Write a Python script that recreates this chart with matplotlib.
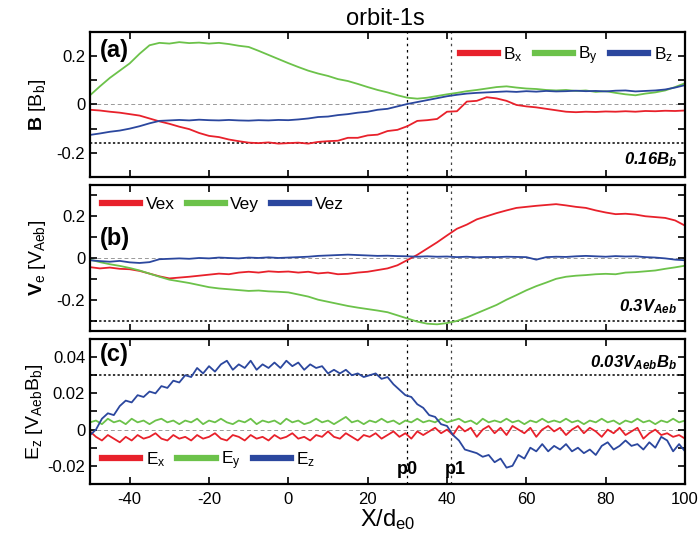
import numpy as np
import matplotlib
matplotlib.use("Agg")
import matplotlib.pyplot as plt
from matplotlib.ticker import MultipleLocator, FuncFormatter

plt.rcParams['font.family'] = ['Liberation Sans', 'DejaVu Sans']
plt.rcParams['mathtext.fontset'] = 'custom'
plt.rcParams['mathtext.rm'] = 'Liberation Sans'
plt.rcParams['mathtext.bf'] = 'Liberation Sans:bold'
plt.rcParams['mathtext.it'] = 'Liberation Sans:italic'
plt.rcParams['axes.unicode_minus'] = False

# -----------------------------
# DATA
# -----------------------------

# B and Ve sampled every 2.5 d_e0
x_bv = np.linspace(-50, 100, 61)

Bx = [-0.022, -0.025, -0.030, -0.034, -0.040, -0.046, -0.058, -0.070, -0.080, -0.092,
      -0.102, -0.118, -0.130, -0.135, -0.145, -0.152, -0.158, -0.160, -0.157, -0.162,
      -0.160, -0.158, -0.162, -0.155, -0.152, -0.150, -0.138, -0.138, -0.128, -0.125,
      -0.110, -0.105, -0.090, -0.068, -0.065, -0.060, -0.030, -0.028, 0.012, 0.015,
      0.030, 0.025, 0.015, -0.002, -0.008, -0.012, -0.018, -0.024, -0.030, -0.032,
      -0.030, -0.031, -0.029, -0.030, -0.028, -0.030, -0.027, -0.028, -0.026, -0.027,
      -0.025]
By = [0.038, 0.075, 0.110, 0.140, 0.170, 0.210, 0.245, 0.255, 0.252, 0.258,
      0.254, 0.256, 0.252, 0.255, 0.250, 0.243, 0.238, 0.222, 0.205, 0.188,
      0.171, 0.155, 0.140, 0.128, 0.118, 0.105, 0.097, 0.085, 0.072, 0.060,
      0.050, 0.038, 0.028, 0.024, 0.028, 0.035, 0.042, 0.048, 0.055, 0.060,
      0.066, 0.072, 0.075, 0.070, 0.066, 0.064, 0.060, 0.058, 0.060, 0.056,
      0.058, 0.052, 0.055, 0.048, 0.042, 0.038, 0.045, 0.050, 0.058, 0.072,
      0.088]
Bz = [-0.126, -0.120, -0.113, -0.108, -0.100, -0.090, -0.078, -0.068, -0.066, -0.064,
      -0.066, -0.063, -0.065, -0.066, -0.064, -0.066, -0.067, -0.065, -0.066, -0.064,
      -0.065, -0.062, -0.058, -0.052, -0.050, -0.044, -0.040, -0.034, -0.030, -0.022,
      -0.018, -0.008, 0.002, 0.010, 0.018, 0.026, 0.034, 0.040, 0.045, 0.048,
      0.050, 0.052, 0.054, 0.052, 0.055, 0.053, 0.056, 0.054, 0.055, 0.057,
      0.055, 0.056, 0.054, 0.057, 0.058, 0.054, 0.056, 0.058, 0.062, 0.070,
      0.080]

Vex = [-0.044, -0.050, -0.046, -0.052, -0.054, -0.062, -0.075, -0.088, -0.098, -0.094,
       -0.090, -0.085, -0.080, -0.075, -0.078, -0.070, -0.066, -0.070, -0.064, -0.067,
       -0.065, -0.070, -0.066, -0.074, -0.070, -0.078, -0.076, -0.070, -0.066, -0.058,
       -0.050, -0.035, -0.010, 0.015, 0.045, 0.075, 0.108, 0.140, 0.160, 0.185,
       0.200, 0.215, 0.228, 0.240, 0.245, 0.250, 0.254, 0.258, 0.252, 0.245,
       0.240, 0.228, 0.218, 0.210, 0.212, 0.208, 0.200, 0.196, 0.192, 0.180,
       0.155]
Vey = [-0.008, -0.020, -0.030, -0.038, -0.048, -0.060, -0.075, -0.090, -0.104, -0.112,
       -0.120, -0.130, -0.140, -0.146, -0.150, -0.154, -0.158, -0.156, -0.160, -0.162,
       -0.165, -0.175, -0.185, -0.200, -0.210, -0.220, -0.230, -0.238, -0.245, -0.252,
       -0.260, -0.275, -0.290, -0.305, -0.315, -0.318, -0.312, -0.302, -0.285, -0.265,
       -0.245, -0.225, -0.200, -0.178, -0.155, -0.135, -0.118, -0.100, -0.090, -0.085,
       -0.082, -0.078, -0.076, -0.078, -0.070, -0.068, -0.064, -0.060, -0.052, -0.045,
       -0.037]
Vez = [-0.011, -0.015, -0.018, -0.014, -0.021, -0.024, -0.020, -0.006, -0.004, -0.002,
       -0.004, 0.000, -0.002, 0.002, 0.000, -0.002, 0.002, 0.000, 0.003, 0.000,
       0.002, 0.004, 0.006, 0.010, 0.012, 0.014, 0.016, 0.014, 0.012, 0.010,
       0.011, 0.009, 0.008, 0.006, 0.008, 0.006, 0.007, 0.004, 0.006, 0.003,
       0.005, 0.004, 0.006, 0.005, 0.004, -0.008, 0.004, 0.006, 0.005, 0.008,
       0.010, 0.008, 0.006, 0.009, 0.007, 0.008, 0.004, 0.002, -0.002, -0.008,
       -0.011]

# E sampled every 1.5 d_e0
x_e = np.linspace(-50, 100, 101)

Ex = [-0.001, -0.004, -0.006, -0.003, -0.005, -0.007, -0.004, -0.006, -0.003, -0.005,
      -0.004, -0.002, -0.005, -0.006, -0.003, -0.005, -0.004, -0.006, -0.003, -0.005,
      -0.004, -0.002, -0.005, -0.006, -0.003, -0.004, -0.006, -0.003, -0.005, -0.004,
      -0.006, -0.003, -0.005, -0.004, -0.002, -0.005, -0.004, -0.006, -0.003, -0.004,
      -0.001, -0.004, -0.005, -0.002, -0.004, -0.006, -0.003, -0.004, -0.002, -0.005,
      -0.003, -0.001, -0.004, -0.002, -0.005, -0.001, -0.003,
      -0.001, 0.001, -0.002, 0.000, -0.003, 0.002, -0.001, 0.001, -0.004, 0.000,
      0.002, -0.002, 0.001, -0.003, 0.002, 0.000, -0.002, 0.001, -0.004, 0.000,
      0.002, -0.001, 0.001, -0.003, 0.000, 0.002, -0.002, 0.001, -0.001, -0.004,
      0.000, -0.002, 0.001, -0.003, -0.001, 0.001, -0.005, -0.002, 0.000, -0.003,
      -0.002, -0.004, -0.003, -0.005]
Ey = [0.004, 0.005, 0.003, 0.006, 0.004, 0.005, 0.003, 0.006, 0.004, 0.005,
      0.003, 0.005, 0.006, 0.004, 0.005, 0.003, 0.005, 0.004, 0.006, 0.003,
      0.005, 0.004, 0.006, 0.004, 0.003, 0.005, 0.004, 0.006, 0.003, 0.005,
      0.004, 0.005, 0.003, 0.006, 0.004, 0.005, 0.003, 0.004, 0.006, 0.004,
      0.005, 0.003, 0.005, 0.007, 0.004, 0.005, 0.003, 0.005, 0.004, 0.006,
      0.004, 0.005, 0.003, 0.005, 0.004, 0.006, 0.004, 0.005, 0.004, 0.006,
      0.004, 0.005, 0.006, 0.004, 0.005, 0.003, 0.006, 0.004, 0.005, 0.004,
      0.006, 0.004, 0.005, 0.003, 0.005, 0.004, 0.006, 0.004, 0.005, 0.004,
      0.006, 0.004, 0.005, 0.003, 0.005, 0.004, 0.006, 0.004, 0.005, 0.003,
      0.005, 0.004, 0.006, 0.004, 0.005, 0.003, 0.005, 0.004, 0.006, 0.004,
      0.005]
Ez = [-0.003, 0.000, 0.006, 0.009, 0.008, 0.013, 0.016, 0.015, 0.019, 0.018,
      0.021, 0.020, 0.024, 0.023, 0.027, 0.026, 0.030, 0.029, 0.034, 0.031,
      0.035, 0.032, 0.036, 0.038, 0.033, 0.036, 0.034, 0.038, 0.033, 0.036,
      0.034, 0.037, 0.034, 0.038, 0.035, 0.037, 0.033, 0.036, 0.034, 0.035,
      0.031, 0.033, 0.031, 0.033, 0.030, 0.031, 0.029, 0.030, 0.031, 0.028,
      0.029, 0.025, 0.022, 0.019, 0.018, 0.014, 0.012, 0.008, 0.007, 0.003,
      0.002, -0.003, -0.006, -0.011, -0.012, -0.013, -0.015, -0.014, -0.018, -0.016,
      -0.021, -0.020, -0.014, -0.016, -0.010, -0.012, -0.008, -0.012, -0.009, -0.011,
      -0.008, -0.012, -0.010, -0.013, -0.011, -0.014, -0.009, -0.007, -0.011, -0.009,
      -0.006, -0.009, -0.008, -0.011, -0.007, -0.010, -0.004, -0.006, -0.012, -0.008,
      -0.012]

p0, p1 = 30, 41
ref_levels = [-0.16, -0.3, 0.03]
ref_texts = [r'0.16B$_\mathregular{b}$', r'0.3V$_\mathregular{Aeb}$',
             r'0.03V$_\mathregular{Aeb}$B$_\mathregular{b}$']

red = '#e8212b'
green = '#6cc24a'
blue = '#2b479e'

# -----------------------------
# FIGURE
# -----------------------------

fig = plt.figure(figsize=(7, 5.33), dpi=100)
left, width = 0.1286, 0.85
ax1 = fig.add_axes([left, 0.668, width, 0.272])
ax2 = fig.add_axes([left, 0.379, width, 0.274])
ax3 = fig.add_axes([left, 0.092, width, 0.272])
axes = [ax1, ax2, ax3]

lw = 1.3
ax1.plot(x_bv, Bx, color=red, lw=lw, label=r'B$_\mathregular{x}$')
ax1.plot(x_bv, By, color=green, lw=lw, label=r'B$_\mathregular{y}$')
ax1.plot(x_bv, Bz, color=blue, lw=lw, label=r'B$_\mathregular{z}$')

ax2.plot(x_bv, Vex, color=red, lw=lw, label='Vex')
ax2.plot(x_bv, Vey, color=green, lw=lw, label='Vey')
ax2.plot(x_bv, Vez, color=blue, lw=lw, label='Vez')

ax3.plot(x_e, Ex, color=red, lw=lw, label=r'E$_\mathregular{x}$')
ax3.plot(x_e, Ey, color=green, lw=lw, label=r'E$_\mathregular{y}$')
ax3.plot(x_e, Ez, color=blue, lw=lw, label=r'E$_\mathregular{z}$')

ax1.set_ylim(-0.3, 0.3)
ax2.set_ylim(-0.35, 0.35)
ax3.set_ylim(-0.03, 0.05)

fmt = FuncFormatter(lambda v, p: '0' if abs(v) < 1e-9 else f'{v:g}')
ax1.yaxis.set_major_locator(MultipleLocator(0.2))
ax1.yaxis.set_minor_locator(MultipleLocator(0.1))
ax2.yaxis.set_major_locator(MultipleLocator(0.2))
ax2.yaxis.set_minor_locator(MultipleLocator(0.1))
ax3.yaxis.set_major_locator(MultipleLocator(0.02))
ax3.yaxis.set_minor_locator(MultipleLocator(0.01))

for i, ax in enumerate(axes):
    ax.set_xlim(-50, 100)
    ax.xaxis.set_major_locator(MultipleLocator(20))
    ax.yaxis.set_major_formatter(fmt)
    ax.tick_params(which='both', direction='in', top=True, right=True,
                   length=5, width=1.2, labelsize=12)
    ax.tick_params(axis='x', pad=6)
    ax.axhline(0, color='#999999', lw=0.7, ls=(0, (4, 3)), zorder=0)
    ax.axhline(ref_levels[i], color='black', lw=1.1, ls=(0, (1.5, 1.5)), zorder=1)
    ax.axvline(p0, color='black', lw=0.9, ls=(0, (2, 3)), zorder=1)
    ax.axvline(p1, color='#444444', lw=0.9, ls=(0, (2, 3)), zorder=1)
    for s in ax.spines.values():
        s.set_linewidth(1.6)
    if i < 2:
        ax.tick_params(labelbottom=False)

# reference level texts
ax1.text(98, -0.19, ref_texts[0], ha='right', va='top', fontsize=12,
         fontweight='bold', fontstyle='italic')
ax2.text(98, -0.28, ref_texts[1], ha='right', va='bottom', fontsize=12,
         fontweight='bold', fontstyle='italic')
ax3.text(98, 0.032, ref_texts[2], ha='right', va='bottom', fontsize=12,
         fontweight='bold', fontstyle='italic')

# panel labels
ax1.text(-47.5, 0.27, '(a)', fontsize=17, fontweight='bold', va='top')
ax2.text(-47.5, 0.15, '(b)', fontsize=17, fontweight='bold', va='top')
ax3.text(-47.5, 0.048, '(c)', fontsize=17, fontweight='bold', va='top')

ax3.text(p0, -0.0265, 'p0', fontsize=13, fontweight='bold', ha='center', va='bottom')
ax3.text(p1 + 1.2, -0.0265, 'p1', fontsize=13, fontweight='bold', ha='center', va='bottom')

leg_kw = dict(ncol=3, frameon=False, fontsize=12.5, handlelength=2.2,
              handletextpad=0.3, columnspacing=0.7, borderaxespad=0.3)
l1 = ax1.legend(loc='upper right', **leg_kw)
l2 = ax2.legend(loc='upper left', **leg_kw)
l3 = ax3.legend(loc='lower left', **leg_kw)
for leg in (l1, l2, l3):
    for h in leg.get_lines():
        h.set_linewidth(4.5)

ax1.set_ylabel(r'$\mathbf{B}$ [B$_\mathregular{b}$]', fontsize=14, labelpad=6)
ax2.set_ylabel(r'$\mathbf{V}$$_\mathregular{e}$ [V$_\mathregular{Aeb}$]', fontsize=14, labelpad=6)
ax3.set_ylabel(r'E$_\mathregular{z}$ [V$_\mathregular{Aeb}$B$_\mathregular{b}$]', fontsize=14, labelpad=2)
ax3.set_xlabel(r'X/d$_\mathregular{e0}$', fontsize=17, labelpad=0)

fig.text(0.55, 0.965, 'orbit-1s', ha='center', va='center', fontsize=17)

fig.savefig('out.png', dpi=100)
